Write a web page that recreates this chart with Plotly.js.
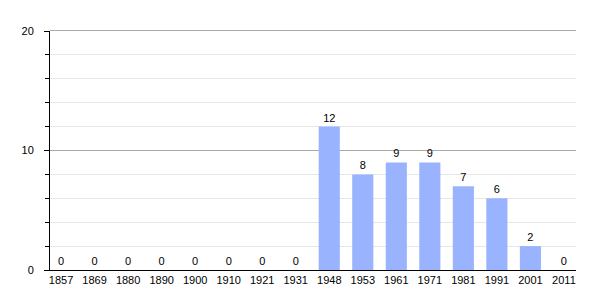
<!DOCTYPE html>
<html><head><meta charset="utf-8">
<script src="https://cdn.plot.ly/plotly-3.0.1.min.js"></script>
<style>html,body{margin:0;padding:0;background:#fff;}</style>
</head><body>
<div id="chart" style="width:605px;height:300px;"></div>
<script>
const years = ["1857","1869","1880","1890","1900","1910","1921","1931","1948","1953","1961","1971","1981","1991","2001","2011"];
const values = [0,0,0,0,0,0,0,0,12,8,9,9,7,6,2,0];
const yTicks = [0,10,20];
const yMax = 20;

Plotly.newPlot('chart', [{
  type: 'bar',
  x: years,
  y: values,
  text: values.map(String),
  textposition: 'outside',
  cliponaxis: false,
  textfont: {family: 'Liberation Sans, Arial, sans-serif', size: 11, color: '#000'},
  marker: {color: '#99b3ff'},
  hoverinfo: 'none'
}], {
  width: 605, height: 300,
  margin: {l: 50, r: 29, t: 31, b: 30},
  paper_bgcolor: '#fff', plot_bgcolor: '#fff',
  bargap: 0.37,
  showlegend: false,
  font: {family: 'Liberation Sans, Arial, sans-serif', size: 11, color: '#000'},
  xaxis: {
    type: 'category',
    range: [-0.33, 15.36],
    showline: true, linecolor: '#000', linewidth: 1,
    showgrid: false, ticks: '', fixedrange: true,
    tickfont: {size: 11}
  },
  yaxis: {
    range: [0, yMax],
    tickvals: yTicks,
    ticks: 'outside', ticklen: 5, tickcolor: '#000',
    ticklabelstandoff: 8,
    showline: true, linecolor: '#000', linewidth: 1,
    showgrid: true, gridcolor: '#aaaaaa', gridwidth: 1,
    zeroline: false,
    minor: {dtick: 2, ticks: 'outside', ticklen: 4, tickcolor: '#000', showgrid: true, gridcolor: '#e6e6e6', gridwidth: 1},
    tickfont: {size: 11}
  },
  shapes: [{type: 'line', xref: 'paper', yref: 'paper', x0: 0, x1: 1, y0: 1.002, y1: 1.002, line: {color: '#aaaaaa', width: 1}, layer: 'below'}]
}, {staticPlot: true});
</script>
</body></html>
